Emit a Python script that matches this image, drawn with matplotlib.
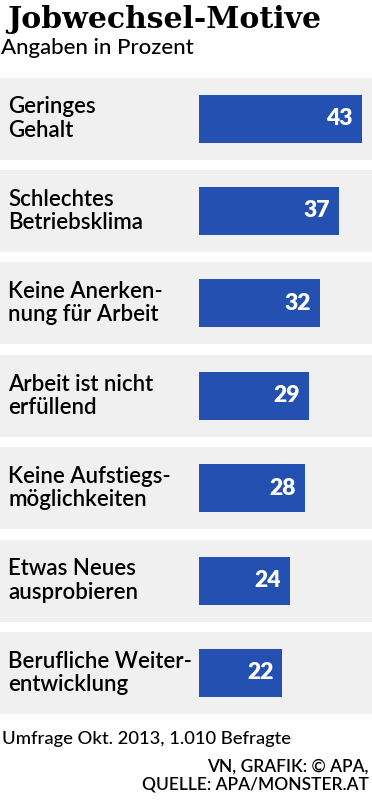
import matplotlib
matplotlib.use("Agg")
import matplotlib.pyplot as plt

categories = ["Geringes\nGehalt", "Schlechtes\nBetriebsklima", "Keine Anerken-\nnung für Arbeit",
              "Arbeit ist nicht\nerfüllend", "Keine Aufstiegs-\nmöglichkeiten", "Etwas Neues\nausprobieren",
              "Berufliche Weiter-\nentwicklung"]
values = [43, 37, 32, 29, 28, 24, 22]

title = "Jobwechsel-Motive"
subtitle = "Angaben in Prozent"
footnote = "Umfrage Okt. 2013, 1.010 Befragte"
source = "VN, GRAFIK: © APA,\nQUELLE: APA/MONSTER.AT"

W, H = 372, 800
fig = plt.figure(figsize=(W/100, H/100), dpi=100)
fig.patch.set_facecolor("white")

BAR = "#2450b2"
PANEL = "#f0f0f1"
px_per_unit = 3.79
x0_px = 199
xmin = -x0_px/px_per_unit
xmax = (W - x0_px)/px_per_unit
pitch = 92.4
c0 = 118.5
top_px = c0 - pitch/2
bot_px = c0 + 6*pitch + pitch/2
ax = fig.add_axes([0, (H-bot_px)/H, 1, (bot_px-top_px)/H])
ax.set_xlim(xmin, xmax)
ax.set_ylim(len(values)-0.5, -0.5)
ax.axis("off")

pos = list(range(len(values)))
ax.barh(pos, [xmax-xmin]*len(pos), left=xmin, height=82/pitch, color=PANEL, zorder=1)
ax.barh(pos, values, height=48/pitch, color=BAR, zorder=2)
for i, (c, v) in enumerate(zip(categories, values)):
    ax.text(xmin + 8/px_per_unit, i, c, va="center", ha="left", fontsize=16,
            family="Lato", fontweight="semibold", color="black", linespacing=1.12, zorder=3)
    ax.text(v - 9/px_per_unit, i, str(v), va="center", ha="right", fontsize=16.5,
            family="Lato", fontweight="heavy", color="white", zorder=3)

fig.text(7/W, 1-20/H, title, fontsize=21.5, family="DejaVu Serif", fontweight="bold",
         va="center", ha="left")
fig.text(1/W, 1-48/H, subtitle, fontsize=16, family="Lato", fontweight="medium",
         va="center", ha="left")
fig.text(2/W, 1-739/H, footnote, fontsize=13.3, family="Lato", fontweight="medium",
         va="center", ha="left")
fig.text(369/W, 1-776/H, source, fontsize=12.5, family="Lato", fontweight="semibold",
         va="center", ha="right", linespacing=1.15)

fig.savefig("out.png", dpi=100, facecolor="white")
